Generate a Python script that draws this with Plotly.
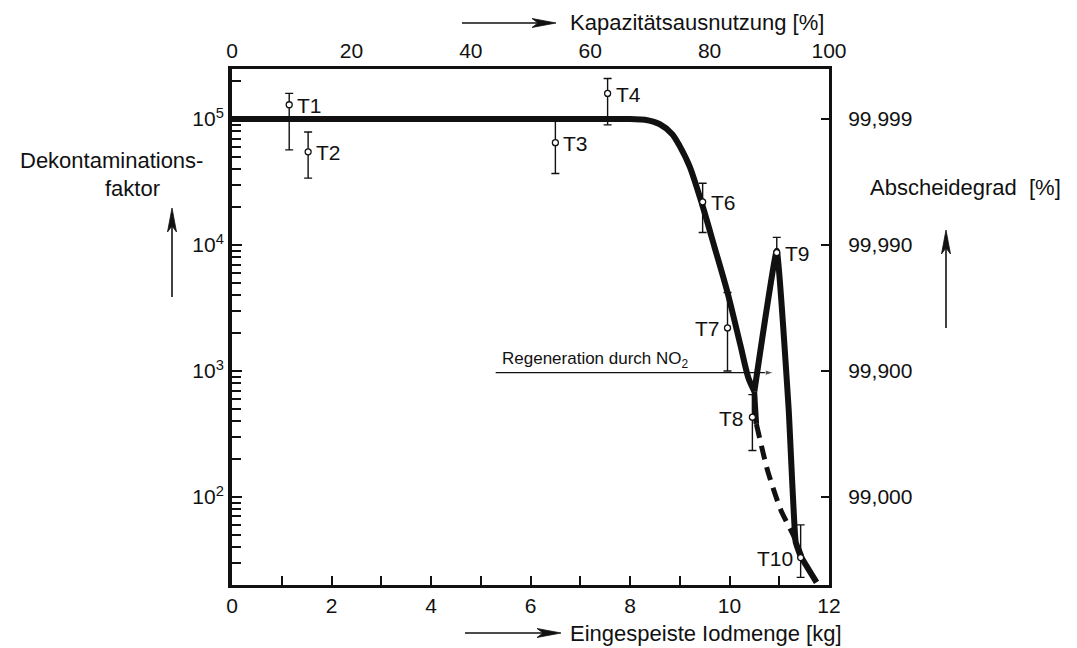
import plotly.graph_objects as go
import math

# ---- measured points (Eingespeiste Iodmenge [kg], Dekontaminationsfaktor) ----
point_labels = ["T1", "T2", "T3", "T4", "T6", "T7", "T8", "T9", "T10"]
point_kg = [1.15, 1.53, 6.5, 7.55, 9.46, 9.96, 10.46, 10.95, 11.43]
point_df = [1.3e5, 5.5e4, 6.5e4, 1.6e5, 2.2e4, 2.2e3, 430, 8.7e3, 33]
point_df_high = [1.6e5, 7.9e4, 1.0e5, 2.1e5, 3.1e4, 4.2e3, 650, 1.15e4, 60]
point_df_low = [5.7e4, 3.4e4, 3.7e4, 9.0e4, 1.26e4, 1.0e3, 234, 7.0e3, 23]
label_side = ["right", "right", "right", "right", "right", "left", "left", "right", "left"]

# ---- fitted course of the decontamination factor ----
main_kg = [0.0, 8.0, 8.3, 8.6, 8.85, 9.0, 9.2, 9.45, 9.7, 9.96, 10.22, 10.38, 10.5]
main_df = [1e5, 1e5, 9.9e4, 9.1e4, 7.6e4, 6.1e4, 4.2e4, 2.1e4, 9.6e3, 4.2e3, 1.6e3, 880, 690]

# short solid continuation below the regeneration point
tail_kg = [10.5, 10.54]
tail_df = [690, 380]

# after regeneration with NO2
regen_kg = [10.5, 10.95, 11.19, 11.33, 11.43, 11.75]
regen_df = [690, 9.0e3, 494, 44, 34, 21]

# extrapolated course without regeneration
extra_kg = [10.54, 10.76, 11.03, 11.29, 11.45]
extra_df = [380, 165, 79, 49, 34]

# regeneration marker line
regen_line_kg = [5.3, 10.89]
regen_line_df = [970, 970]

# axis ticks
kg_ticks = [0, 2, 4, 6, 8, 10, 12]
capacity_ticks = [0, 20, 40, 60, 80, 100]
df_ticks = [1e2, 1e3, 1e4, 1e5]
df_ticktext = ["10<sup>2</sup>", "10<sup>3</sup>", "10<sup>4</sup>", "10<sup>5</sup>"]
separation_text = ["99,000", "99,900", "99,990", "99,999"]

Y_MIN, Y_MAX = 20, 2.5e5
FONT = "Liberation Sans"
black = "#111111"

# page geometry
W, H = 1077, 648
ML, MR, MT, MB = 232, 248, 69, 63
PW, PH = W - ML - MR, H - MT - MB


def px(xp):
    return (xp - ML) / PW


def py(yp):
    return (H - MB - yp) / PH


fig = go.Figure()

# solid main curve
fig.add_trace(go.Scatter(x=main_kg, y=main_df, mode="lines",
                         line=dict(color=black, width=6, shape="spline", smoothing=0.8),
                         hoverinfo="skip", showlegend=False))
fig.add_trace(go.Scatter(x=tail_kg, y=tail_df, mode="lines", line=dict(color=black, width=5.5),
                         hoverinfo="skip", showlegend=False))
fig.add_trace(go.Scatter(x=regen_kg, y=regen_df, mode="lines",
                         line=dict(color=black, width=6, shape="spline", smoothing=0.3),
                         hoverinfo="skip", showlegend=False))
fig.add_trace(go.Scatter(x=extra_kg, y=extra_df, mode="lines",
                         line=dict(color=black, width=5, dash="14px,8px", shape="spline", smoothing=0.6),
                         hoverinfo="skip", showlegend=False))

# regeneration line with arrow head
fig.add_trace(go.Scatter(x=regen_line_kg, y=regen_line_df, mode="lines+markers",
                         line=dict(color=black, width=1.3),
                         marker=dict(symbol="arrow", angleref="previous", size=[0, 9], color=black),
                         hoverinfo="skip", showlegend=False))

# measured points with error bars
fig.add_trace(go.Scatter(
    x=point_kg, y=point_df, mode="markers",
    marker=dict(symbol="circle", size=6, color="white", line=dict(color=black, width=1.3)),
    error_y=dict(type="data", symmetric=False,
                 array=[h - v for h, v in zip(point_df_high, point_df)],
                 arrayminus=[v - l for l, v in zip(point_df_low, point_df)],
                 color=black, thickness=1.4, width=4),
    hoverinfo="skip", showlegend=False))

# invisible trace to carry the top / right axes
fig.add_trace(go.Scatter(x=[0, 100], y=[Y_MIN, Y_MAX], xaxis="x2", yaxis="y2", mode="markers",
                         marker=dict(opacity=0), hoverinfo="skip", showlegend=False))

annotations = []
for lab, x, y, side in zip(point_labels, point_kg, point_df, label_side):
    annotations.append(dict(x=x, y=math.log10(y), xref="x", yref="y", text=lab, showarrow=False,
                            xanchor="left" if side == "right" else "right",
                            xshift=6 if side == "right" else -6, yshift=-1,
                            font=dict(family=FONT, size=21, color=black)))

annotations.append(dict(x=5.39, y=math.log10(970) + 0.1, xref="x", yref="y",
                        text="Regeneration durch NO<sub>2</sub>", showarrow=False,
                        xanchor="left", yanchor="middle", font=dict(family=FONT, size=17, color=black)))

# axis titles
annotations += [
    dict(x=px(568), y=py(22), xref="paper", yref="paper", text="Kapazitätsausnutzung [%]", showarrow=False,
         xanchor="left", yanchor="middle", font=dict(family=FONT, size=22, color=black)),
    dict(x=px(568), y=py(633), xref="paper", yref="paper", text="Eingespeiste Iodmenge [kg]", showarrow=False,
         xanchor="left", yanchor="middle", font=dict(family=FONT, size=22, color=black)),
    dict(x=px(111), y=py(160), xref="paper", yref="paper", text="Dekontaminations-", showarrow=False,
         xanchor="center", yanchor="middle", font=dict(family=FONT, size=22, color=black)),
    dict(x=px(132), y=py(188), xref="paper", yref="paper", text="faktor", showarrow=False,
         xanchor="center", yanchor="middle", font=dict(family=FONT, size=22, color=black)),
    dict(x=px(868), y=py(187), xref="paper", yref="paper", text="Abscheidegrad  [%]", showarrow=False,
         xanchor="left", yanchor="middle", font=dict(family=FONT, size=22, color=black)),
]

# direction arrows next to the axis titles (drawn as shapes in page pixels)
shapes = []
HEAD_LEN, HEAD_HALF, NOTCH = 24, 4.5, 18
for tip, tail in [((556, 23), (462, 23)), ((561, 633), (465, 633)), ((172, 208), (172, 297)), ((946, 230), (946, 328))]:
    dx, dy = tip[0] - tail[0], tip[1] - tail[1]
    n = math.hypot(dx, dy)
    ux, uy = dx / n, dy / n
    vx, vy = -uy, ux
    bx, by = tip[0] - ux * HEAD_LEN, tip[1] - uy * HEAD_LEN
    nx, ny = tip[0] - ux * NOTCH, tip[1] - uy * NOTCH
    shapes.append(dict(type="line", xref="paper", yref="paper",
                       x0=px(tail[0]), y0=py(tail[1]), x1=px(nx), y1=py(ny),
                       line=dict(color=black, width=1.6)))
    pts = [(tip[0], tip[1]), (bx + vx * HEAD_HALF, by + vy * HEAD_HALF), (nx, ny),
           (bx - vx * HEAD_HALF, by - vy * HEAD_HALF)]
    path = "M " + " L ".join(f"{px(a):.5f},{py(b):.5f}" for a, b in pts) + " Z"
    shapes.append(dict(type="path", xref="paper", yref="paper", path=path,
                       fillcolor=black, line=dict(color=black, width=0.8)))

minor_df = [m * 10 ** e for e in range(1, 6) for m in range(2, 10) if Y_MIN <= m * 10 ** e <= Y_MAX]

fig.update_layout(
    width=W, height=H, autosize=False,
    margin=dict(l=ML, r=MR, t=MT, b=MB),
    paper_bgcolor="white", plot_bgcolor="white",
    font=dict(family=FONT, size=21, color=black),
    annotations=annotations,
    shapes=shapes,
    xaxis=dict(range=[0, 12], tickvals=kg_ticks, ticks="inside", ticklen=9, tickwidth=1.5, tickcolor=black,
               minor=dict(dtick=1, ticks="inside", ticklen=9, tickwidth=1.5, tickcolor=black),
               showline=True, linewidth=3, linecolor=black, showgrid=False, zeroline=False,
               tickfont=dict(family=FONT, size=21)),
    xaxis2=dict(range=[0, 100], tickvals=capacity_ticks, overlaying="x", side="top", anchor="y",
                ticks="", showline=True, linewidth=3, linecolor=black, showgrid=False, zeroline=False,
                tickfont=dict(family=FONT, size=21)),
    yaxis=dict(type="log", range=[math.log10(Y_MIN), math.log10(Y_MAX)], tickvals=df_ticks, ticktext=df_ticktext,
               ticks="inside", ticklen=10, tickwidth=1.6, tickcolor=black,
               minor=dict(tickvals=minor_df, ticks="inside", ticklen=9, tickwidth=1.6, tickcolor=black),
               showline=True, linewidth=4, linecolor=black, showgrid=False, zeroline=False,
               tickfont=dict(family=FONT, size=21)),
    yaxis2=dict(type="log", range=[math.log10(Y_MIN), math.log10(Y_MAX)], tickvals=df_ticks, ticktext=separation_text,
                overlaying="y", side="right", anchor="x", ticks="inside", ticklen=8, tickwidth=1.6, tickcolor=black,
                ticklabelstandoff=12,
                showline=True, linewidth=3, linecolor=black, showgrid=False, zeroline=False,
                tickfont=dict(family=FONT, size=21)),
)

fig.write_html("out.html")
